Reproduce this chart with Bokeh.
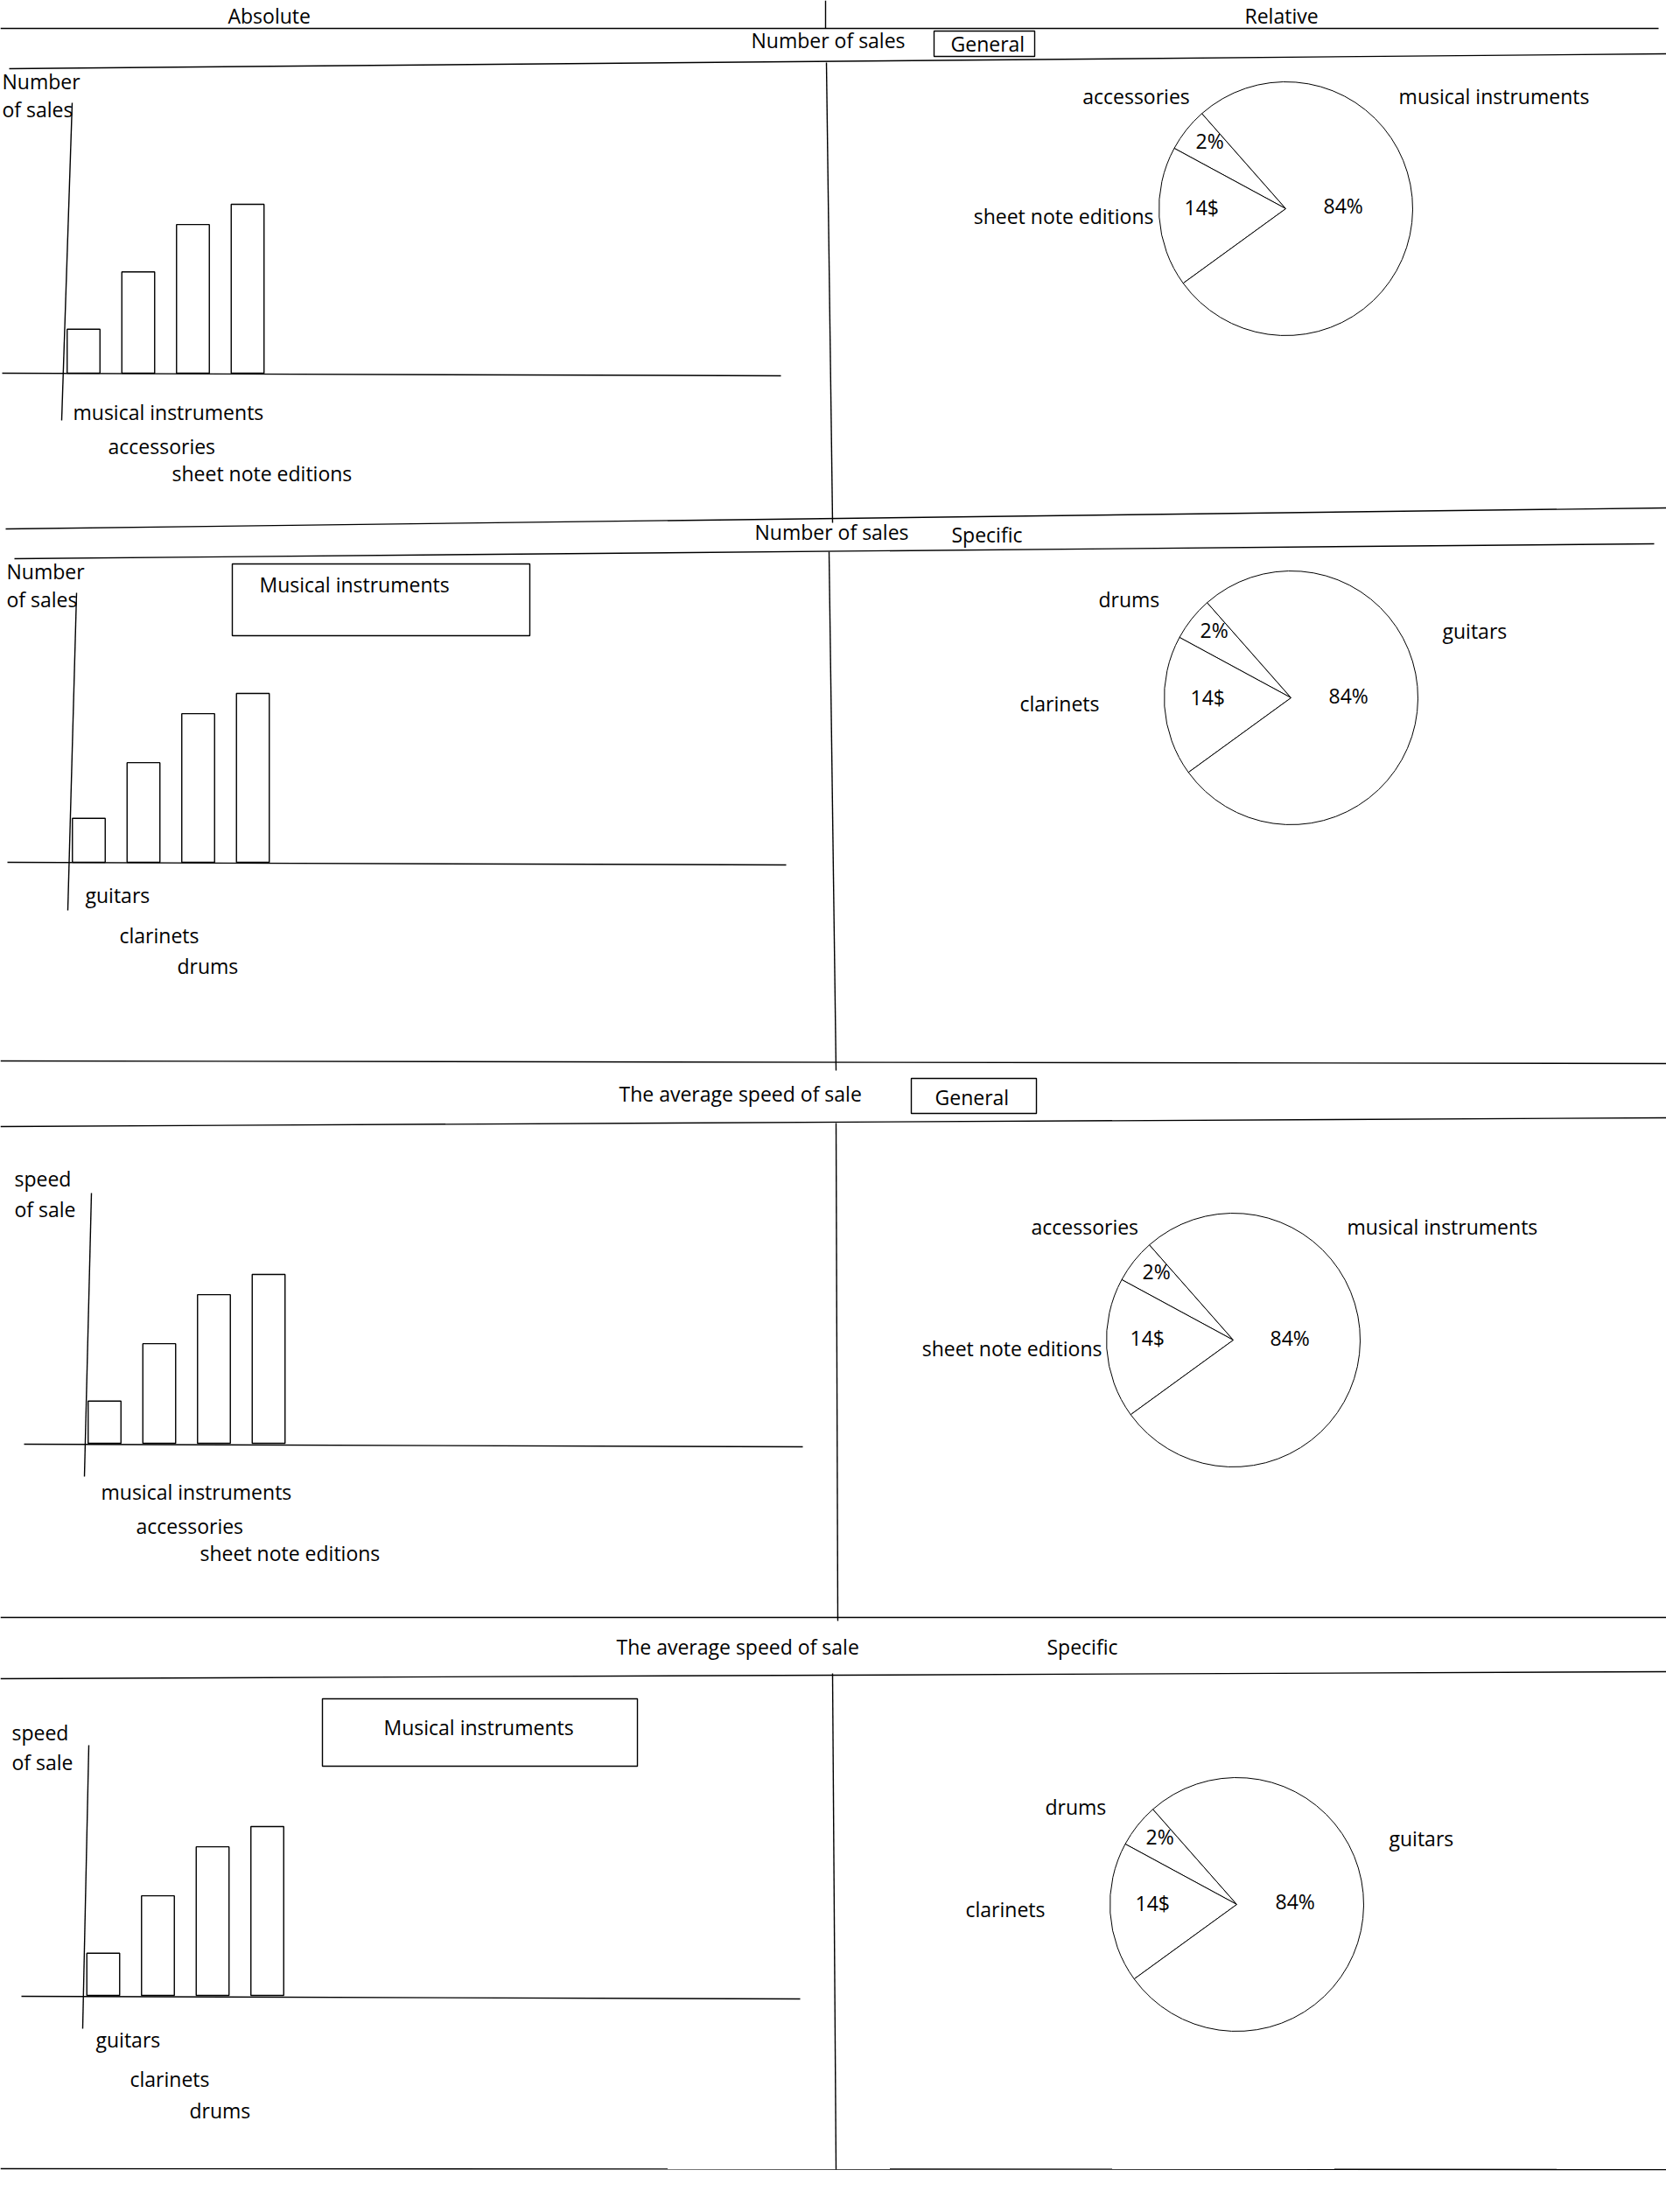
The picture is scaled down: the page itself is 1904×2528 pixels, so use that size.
import math
from bokeh.plotting import figure
from bokeh.models import Range1d
from bokeh.embed import file_html
from bokeh.resources import INLINE
from bokeh.core.properties import value

# ---------------- data ----------------
section_titles = ["Number of sales", "Number of sales", "The average speed of sale", "The average speed of sale"]
section_kinds = ["General", "Specific", "General", "Specific"]
column_titles = ["Absolute", "Relative"]
y_axis_labels = [["Number", "of sales"], ["Number", "of sales"], ["speed", "of sale"], ["speed", "of sale"]]
box_title = "Musical instruments"

general_categories = ["musical instruments", "accessories", "sheet note editions"]
specific_categories = ["guitars", "clarinets", "drums"]

sales_general = [26, 60, 88, 100]
sales_specific = [26, 59, 88, 100]
speed_general = [25, 59, 88, 100]
speed_specific = [25, 59, 88, 100]

# pie: order = top small slice, left slice, large slice
pie_general_names = ["accessories", "sheet note editions", "musical instruments"]
pie_specific_names = ["drums", "clarinets", "guitars"]
pie_labels = ["2%", "14$", "84%"]
pie_shares = [5.6, 17.9, 76.5]   # slice sizes as drawn in the sketch

# ---------------- canvas ----------------
W, H = 1904, 2528
FONT = value("Open Sans")
FS = "23px"
TEXT_SHIFT = 9

p = figure(width=W, height=H, x_range=Range1d(0, W), y_range=Range1d(0, H),
           output_backend="svg", toolbar_location=None, min_border=0,
           x_axis_type=None, y_axis_type=None)
p.grid.visible = False
p.outline_line_color = None
p.background_fill_color = "white"
p.border_fill_color = "white"


def Y(v):
    return H - v


def seg(x0, y0, x1, y1, lw=1.4):
    p.segment(x0=[x0], y0=[Y(y0)], x1=[x1], y1=[Y(y1)], line_color="black", line_width=lw)


def box(l, r, t, b, lw=1.4):
    p.quad(left=[l], right=[r], top=[Y(t)], bottom=[Y(b)], fill_color=None,
           line_color="black", line_width=lw)


def txt(x, y, s, align="left"):
    p.text(x=[x], y=[Y(y - TEXT_SHIFT)], text=[s], text_font=FONT, text_font_size=FS,
           text_color="black", text_align=align, text_baseline="alphabetic")


def bars(vals, a, b, bottom, full_h=193):
    sub = p.subplot(x_source=Range1d(-0.5, 3.5), y_source=Range1d(0, 100),
                    x_target=Range1d(a - 0.5 * b, a + 3.5 * b),
                    y_target=Range1d(Y(bottom), Y(bottom) + full_h))
    sub.vbar(x=list(range(len(vals))), top=vals, bottom=0, width=0.6,
             fill_color="white", line_color="black", line_width=1.4)


def pie(cx, cy, r, shares, start_deg=131.4):
    tot = sum(shares)
    starts, ends = [], []
    acc = math.radians(start_deg)
    for s in shares:
        starts.append(acc)
        acc += 2 * math.pi * s / tot
        ends.append(acc)
    p.wedge(x=[cx] * len(shares), y=[Y(cy)] * len(shares), radius=r,
            start_angle=starts, end_angle=ends, fill_color="white",
            line_color="black", line_width=1.0)


# ---------------- header ----------------
txt(260, 26, column_titles[0])
txt(1422, 26, column_titles[1])
seg(0, 32, 1895, 32)
seg(943, 0, 943, 32)

# ---------------- row 1 ----------------
txt(858, 54, section_titles[0])
box(1067, 1182, 35, 64)
txt(1086, 58, section_kinds[0])
seg(10, 78, 1904, 61)
seg(944, 71, 951, 597)
txt(2, 101, y_axis_labels[0][0]); txt(2, 133, y_axis_labels[0][1])
seg(82, 117, 70, 480)
seg(2, 426, 892, 429)
bars(sales_general, 95, 62.5, 426)
txt(83, 479, general_categories[0]); txt(123, 518, general_categories[1]); txt(196, 549, general_categories[2])
pie(1469, 238, 145, pie_shares)
txt(1298, 118, pie_general_names[0], "center")
txt(1707, 118, pie_general_names[2], "center")
txt(1318, 255, pie_general_names[1], "right")
txt(1366, 169, pie_labels[0]); txt(1353, 245, pie_labels[1]); txt(1512, 243, pie_labels[2])

# ---------------- row 2 ----------------
seg(6, 604, 1904, 580)
txt(862, 616, section_titles[1])
txt(1087, 619, section_kinds[1])
seg(16, 638, 1890, 621)
seg(947, 630, 955, 1223)
txt(7, 661, y_axis_labels[1][0]); txt(7, 693, y_axis_labels[1][1])
seg(87, 677, 77, 1040)
seg(8, 985, 898, 988)
box(265, 605, 644, 726)
txt(296, 676, box_title)
bars(sales_specific, 101, 62.5, 985)
txt(97, 1031, specific_categories[0]); txt(136, 1077, specific_categories[1]); txt(202, 1112, specific_categories[2])
pie(1475, 797, 145, pie_shares)
txt(1255, 693, pie_specific_names[0])
txt(1648, 729, pie_specific_names[2])
txt(1165, 812, pie_specific_names[1])
txt(1371, 728, pie_labels[0]); txt(1360, 805, pie_labels[1]); txt(1518, 803, pie_labels[2])

# ---------------- row 3 ----------------
seg(0, 1212, 1904, 1215)
txt(707, 1258, section_titles[2])
box(1041, 1184, 1232, 1272)
txt(1068, 1262, section_kinds[2])
seg(0, 1287, 1904, 1277)
seg(955, 1283, 957, 1852)
txt(16, 1355, y_axis_labels[2][0]); txt(16, 1390, y_axis_labels[2][1])
seg(104, 1363, 96, 1687)
seg(27, 1650, 917, 1653)
bars(speed_general, 119, 62.5, 1649)
txt(115, 1713, general_categories[0]); txt(155, 1752, general_categories[1]); txt(228, 1783, general_categories[2])
pie(1409, 1531, 145, pie_shares)
txt(1178, 1410, pie_general_names[0])
txt(1539, 1410, pie_general_names[2])
txt(1259, 1549, pie_general_names[1], "right")
txt(1305, 1461, pie_labels[0]); txt(1291, 1537, pie_labels[1]); txt(1451, 1537, pie_labels[2])

# ---------------- row 4 ----------------
seg(0, 1848, 1904, 1848)
txt(704, 1890, section_titles[3])
txt(1196, 1890, section_kinds[3])
seg(0, 1918, 1904, 1910)
seg(951, 1912, 955, 2479)
txt(13, 1988, y_axis_labels[3][0]); txt(13, 2022, y_axis_labels[3][1])
seg(101, 1994, 94, 2318)
seg(24, 2281, 914, 2284)
box(368, 728, 1941, 2018)
txt(438, 1982, box_title)
bars(speed_specific, 117.5, 62.5, 2280)
txt(109, 2339, specific_categories[0]); txt(148, 2384, specific_categories[1]); txt(216, 2420, specific_categories[2])
pie(1413, 2176, 145, pie_shares)
txt(1194, 2073, pie_specific_names[0])
txt(1587, 2109, pie_specific_names[2])
txt(1103, 2190, pie_specific_names[1])
txt(1309, 2107, pie_labels[0]); txt(1297, 2183, pie_labels[1]); txt(1457, 2181, pie_labels[2])

seg(0, 2478, 1904, 2479)

open("out.html", "w").write(file_html(p, INLINE))
